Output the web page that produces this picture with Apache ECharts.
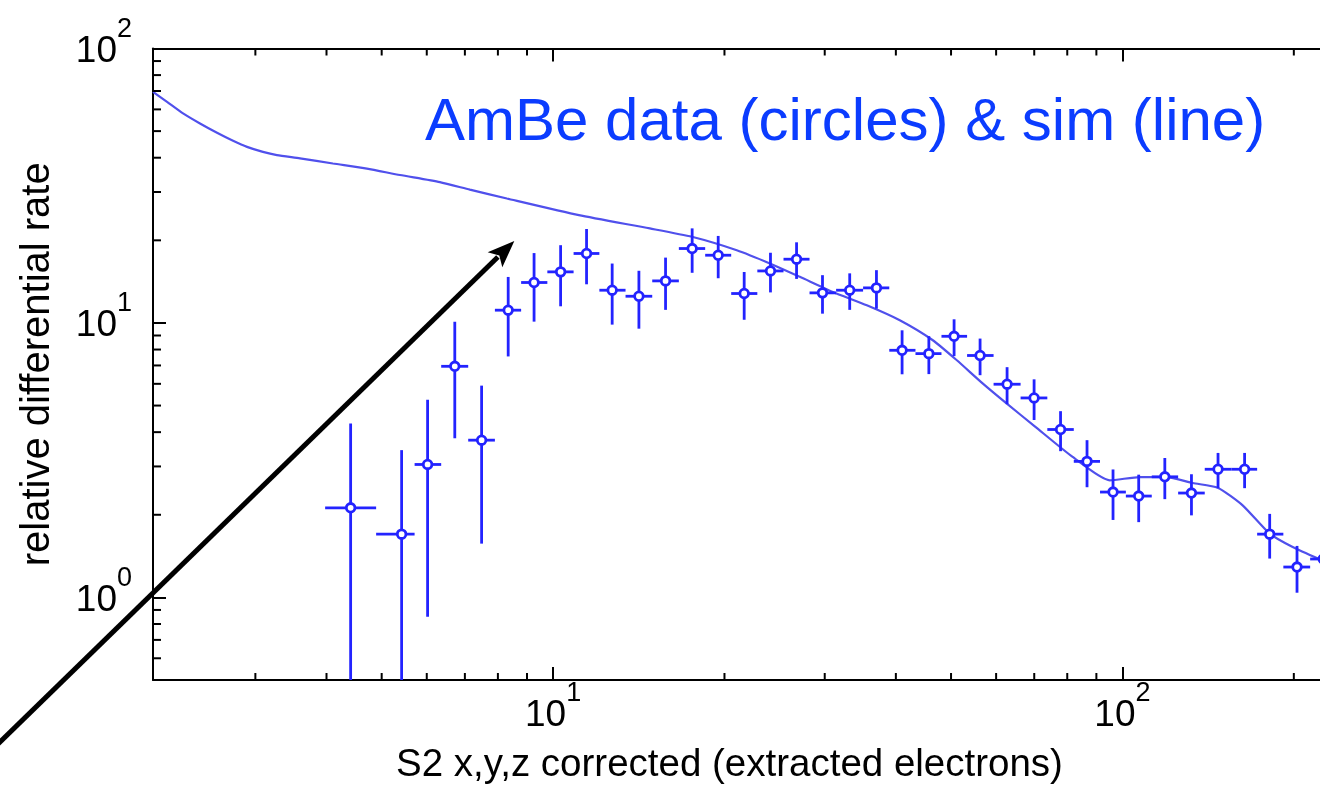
<!DOCTYPE html>
<html>
<head>
<meta charset="utf-8">
<script src="https://cdn.jsdelivr.net/npm/echarts@6/dist/echarts.min.js"></script>
<style>
  html, body { margin: 0; padding: 0; background: #fff; width: 1320px; height: 791px; overflow: hidden; }
  #chart { width: 1360px; height: 791px; }
</style>
</head>
<body>
<div id="chart"></div>
<script>
// AmBe calibration: measured S2 spectrum (points with errors) and simulation (line)
const binCenters = [4.41, 5.42, 6.02, 6.72, 7.49, 8.34, 9.26, 10.31, 11.45, 12.70,
  14.15, 15.76, 17.55, 19.50, 21.66, 24.09, 26.77, 29.73, 33.19, 36.98,
  41.02, 45.71, 50.62, 56.23, 62.72, 69.96, 77.86, 86.66, 96.27, 106.8,
  118.7, 132.2, 147.2, 163.9, 181.4, 202.6, 225.3];
const rates = [2.12, 1.70, 3.05, 6.95, 3.74, 11.13, 14.04, 15.35, 17.91, 13.16,
  12.51, 14.23, 18.67, 17.65, 12.80, 15.47, 17.07, 12.87, 13.16, 13.42,
  7.95, 7.73, 8.94, 7.61, 5.98, 5.33, 4.09, 3.13, 2.42, 2.34,
  2.75, 2.40, 2.93, 2.93, 1.70, 1.29, 1.38];
const rateErrors = [2.18, 1.74, 2.20, 3.15, 2.17, 3.58, 3.93, 3.85, 4.08, 3.30,
  2.98, 3.07, 3.44, 3.10, 2.53, 2.55, 2.60, 2.06, 2.00, 2.15,
  1.45, 1.22, 1.37, 1.16, 0.92, 0.90, 0.68, 0.61, 0.505, 0.46,
  0.47, 0.41, 0.43, 0.43, 0.315, 0.25, 0.27];

const simS2 = [1.983, 2.099, 2.239, 2.398, 2.569, 2.741, 2.900, 3.093, 3.273, 3.593,
  4.105, 4.710, 5.383, 6.327, 7.143, 8.296, 11.10, 14.79, 17.53, 21.02, 24.03,
  27.13, 31.00, 35.57, 40.64, 46.45, 51.19, 56.88, 62.66, 70.15, 81.76,
  95.00, 107.2, 119.6, 132.9, 147.0, 162.6, 181.4, 199.1, 222.0];
const simRate = [69.5, 63.9, 58.0, 53.3, 49.3, 46.1, 43.8, 42.0, 40.9, 39.8,
  38.1, 36.5, 34.6, 32.6, 30.6, 28.4, 24.7, 22.1, 20.6, 18.4, 16.47,
  14.72, 12.97, 11.60, 10.23, 8.65, 7.31, 6.01, 5.08, 4.20, 3.25,
  2.67, 2.745, 2.745, 2.61, 2.51, 2.165, 1.707, 1.525, 1.376];

const xMinorTicks = [3, 4, 5, 6, 7, 8, 9, 20, 30, 40, 50, 60, 70, 80, 90, 200];
const yMinorTicks = [0.6, 0.7, 0.8, 0.9, 2, 3, 4, 5, 6, 7, 8, 9, 20, 30, 40, 50, 60, 70, 80, 90];

const titleText = 'AmBe data (circles) & sim (line)';
const xTitle = 'S2 x,y,z corrected (extracted electrons)';
const yTitle = 'relative differential rate';

// annotation arrow, in data coordinates (tail, head)
const arrowTail = [1.0, 0.26];
const arrowHead = [8.55, 19.9];

const X_MIN = 1.983, X_MAX = 250, Y_MIN = 0.5, Y_MAX = 100;
const DATA_COLOR = '#2323ff';
const SIM_COLOR = '#5050ec';
const FONT = "'Liberation Sans', Arial, Helvetica, sans-serif";

// bin edges as geometric midpoints between neighbouring bin centres
const binLo = binCenters.map((c, i) => i > 0 ? Math.sqrt(c * binCenters[i - 1]) : c / Math.sqrt(binCenters[1] / binCenters[0]));
const binHi = binCenters.map((c, i) => i < binCenters.length - 1 ? Math.sqrt(c * binCenters[i + 1]) : c * Math.sqrt(c / binCenters[i - 1]));
const pointData = binCenters.map((c, i) => [c, rates[i], rateErrors[i], binLo[i], binHi[i]]);

function powLabel(v) {
  const e = Math.log10(v);
  if (Math.abs(e - Math.round(e)) > 1e-6) return '';
  return '{b|10}{s|' + Math.round(e) + '}';
}
const richPow = {
  b: { fontSize: 37, lineHeight: 37, padding: [17, 0, 0, 0], color: '#000', fontFamily: FONT },
  s: { fontSize: 27, lineHeight: 27, padding: [0, 0, 27, 0], color: '#000', fontFamily: FONT }
};
const axisLineStyle = { color: '#000', width: 2 };

const chart = echarts.init(document.getElementById('chart'), null, { renderer: 'canvas' });

const option = {
  animation: false,
  backgroundColor: '#fff',
  textStyle: { fontFamily: FONT },
  title: {
    text: titleText,
    left: 420,
    top: 88,
    textStyle: { fontSize: 60, fontWeight: 'normal', color: '#0b3cff', fontFamily: FONT }
  },
  grid: { left: 153, right: 11, top: 48.5, bottom: 111, containLabel: false },
  xAxis: [{
    type: 'log', logBase: 10, min: X_MIN, max: X_MAX, position: 'bottom',
    axisLine: { show: true, lineStyle: axisLineStyle },
    axisTick: { show: true, inside: true, length: 13, lineStyle: axisLineStyle },
    axisLabel: { show: true, margin: 9, formatter: powLabel, rich: richPow, showMinLabel: false, showMaxLabel: false },
    splitLine: { show: false },
    name: xTitle, nameLocation: 'middle', nameGap: 66,
    nameTextStyle: { fontSize: 38.5, color: '#000', fontFamily: FONT, padding: [0, 43, 0, 0] }
  }, {
    type: 'log', logBase: 10, min: X_MIN, max: X_MAX, position: 'top',
    axisLine: { show: true, lineStyle: axisLineStyle },
    axisTick: { show: true, inside: true, length: 13, lineStyle: axisLineStyle },
    axisLabel: { show: false }, splitLine: { show: false }
  }],
  yAxis: [{
    type: 'log', logBase: 10, min: Y_MIN, max: Y_MAX, position: 'left',
    axisLine: { show: true, lineStyle: axisLineStyle },
    axisTick: { show: true, inside: true, length: 13, lineStyle: axisLineStyle },
    axisLabel: { show: true, margin: 21, formatter: powLabel, rich: richPow, padding: [0, 0, 11, 0], showMinLabel: false },
    splitLine: { show: false },
    name: yTitle, nameLocation: 'middle', nameGap: 95,
    nameTextStyle: { fontSize: 40, color: '#000', fontFamily: FONT }
  }, {
    type: 'log', logBase: 10, min: Y_MIN, max: Y_MAX, position: 'right',
    axisLine: { show: true, lineStyle: axisLineStyle },
    axisTick: { show: true, inside: true, length: 13, lineStyle: axisLineStyle },
    axisLabel: { show: false }, splitLine: { show: false }
  }],
  series: [
    {
      // minor ticks along bottom and top
      type: 'custom', xAxisIndex: 0, yAxisIndex: 0, silent: true, z: 5,
      data: xMinorTicks.map(v => [v, 1]),
      renderItem(params, api) {
        const cs = params.coordSys;
        const px = api.coord([api.value(0), 1])[0];
        const st = { stroke: '#000', lineWidth: 2 };
        return { type: 'group', children: [
          { type: 'line', shape: { x1: px, y1: cs.y + cs.height, x2: px, y2: cs.y + cs.height - 7 }, style: st },
          { type: 'line', shape: { x1: px, y1: cs.y, x2: px, y2: cs.y + 7 }, style: st }
        ] };
      }
    },
    {
      // minor ticks along left and right
      type: 'custom', xAxisIndex: 0, yAxisIndex: 0, silent: true, z: 5,
      data: yMinorTicks.map(v => [10, v]),
      renderItem(params, api) {
        const cs = params.coordSys;
        const py = api.coord([10, api.value(1)])[1];
        const st = { stroke: '#000', lineWidth: 2 };
        return { type: 'group', children: [
          { type: 'line', shape: { x1: cs.x, y1: py, x2: cs.x + 8, y2: py }, style: st },
          { type: 'line', shape: { x1: cs.x + cs.width, y1: py, x2: cs.x + cs.width - 8, y2: py }, style: st }
        ] };
      }
    },
    {
      name: 'sim', type: 'line', xAxisIndex: 0, yAxisIndex: 0, z: 3,
      data: simS2.map((x, i) => [x, simRate[i]]),
      showSymbol: false, smooth: 0.2,
      lineStyle: { color: SIM_COLOR, width: 2.2 }
    },
    {
      name: 'data', type: 'custom', xAxisIndex: 0, yAxisIndex: 0, z: 4,
      data: pointData,
      renderItem(params, api) {
        const x = api.value(0), y = api.value(1), e = api.value(2);
        const c = api.coord([x, y]);
        const top = api.coord([x, y + e]);
        const bot = api.coord([x, Math.max(y - e, Y_MIN)]);
        const l = api.coord([api.value(3), y]);
        const r = api.coord([api.value(4), y]);
        const st = { stroke: DATA_COLOR, lineWidth: 2.8 };
        return { type: 'group', children: [
          { type: 'line', shape: { x1: c[0], y1: top[1], x2: c[0], y2: bot[1] }, style: st },
          { type: 'line', shape: { x1: l[0], y1: c[1], x2: r[0], y2: c[1] }, style: st },
          { type: 'circle', shape: { cx: c[0], cy: c[1], r: 4.3 }, style: { fill: '#fff', stroke: DATA_COLOR, lineWidth: 2.8 } }
        ] };
      }
    }
  ]
};
chart.setOption(option);

// annotation arrow placed through the axes' own scales
const pTail = chart.convertToPixel({ xAxisIndex: 0, yAxisIndex: 0 }, arrowTail);
const pHead = chart.convertToPixel({ xAxisIndex: 0, yAxisIndex: 0 }, arrowHead);
const dx = pHead[0] - pTail[0], dy = pHead[1] - pTail[1];
const len = Math.sqrt(dx * dx + dy * dy);
const ux = dx / len, uy = dy / len;
const headLen = 27, headHalf = 10.5;
const bx = pHead[0] - ux * headLen, by = pHead[1] - uy * headLen;
chart.setOption({
  graphic: [
    { type: 'line', z: 100, shape: { x1: pTail[0], y1: pTail[1], x2: bx + ux * 4, y2: by + uy * 4 },
      style: { stroke: '#000', lineWidth: 5 } },
    { type: 'polygon', z: 100, shape: { points: [
        [pHead[0], pHead[1]],
        [bx - uy * headHalf, by + ux * headHalf],
        [bx + ux * 6, by + uy * 6],
        [bx + uy * headHalf, by - ux * headHalf]
      ] }, style: { fill: '#000' } }
  ]
});
</script>
</body>
</html>
